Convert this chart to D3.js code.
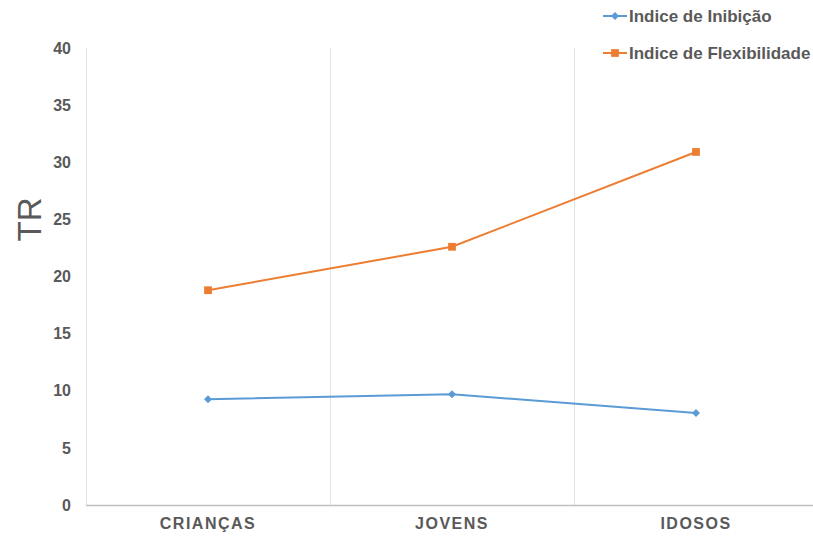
<!DOCTYPE html>
<html>
<head>
<meta charset="utf-8">
<script src="https://cdn.jsdelivr.net/npm/d3@7"></script>
<style>
  body { margin: 0; background: #fff; }
  svg text { font-family: "Liberation Sans", Arial, sans-serif; }
</style>
</head>
<body>
<div id="chart"></div>
<script>
// Chart data
const categories = ['CRIANÇAS', 'JOVENS', 'IDOSOS'];
const inibicao = [9.25, 9.7, 8.05];
const flexibilidade = [18.8, 22.6, 30.9];
const yTicks = [0, 5, 10, 15, 20, 25, 30, 35, 40];
const seriesNames = ['Indice de Inibição', 'Indice de Flexibilidade'];

const W = 813, H = 537;
const margin = { top: 48, right: -5, bottom: 32, left: 86 };
const width = W - margin.left - margin.right;
const height = H - margin.top - margin.bottom;

const svg = d3.select('#chart').append('svg')
  .attr('width', W).attr('height', H);

const g = svg.append('g')
  .attr('transform', `translate(${margin.left},${margin.top})`);

const x = d3.scaleBand().domain(categories).range([0, width]).padding(0);
const y = d3.scaleLinear().domain([0, 40]).range([height, 0]);

const textCol = '#595959';

// vertical gridlines at category boundaries (incl. left edge)
const bounds = categories.map(c => x(c));
g.selectAll('.vgrid').data(bounds).enter().append('line')
  .attr('x1', d => d + 0.5).attr('x2', d => d + 0.5)
  .attr('y1', 0).attr('y2', height)
  .attr('stroke', '#e3e3e3').attr('stroke-width', 1);

// bottom axis line
g.append('line')
  .attr('x1', 0).attr('x2', width)
  .attr('y1', height + 0.5).attr('y2', height + 0.5)
  .attr('stroke', '#bfbfbf').attr('stroke-width', 1.3);

// y tick labels
const yAxis = g.append('g')
  .call(d3.axisLeft(y).tickValues(yTicks).tickSize(0).tickPadding(15));
yAxis.select('.domain').remove();
yAxis.selectAll('text')
  .attr('fill', textCol).attr('font-size', '16px').attr('font-weight', 'bold')
  .style('font-family', '"Liberation Sans", Arial, sans-serif');

// x category labels
const xAxis = g.append('g')
  .attr('transform', `translate(0,${height})`)
  .call(d3.axisBottom(x).tickSize(0).tickPadding(13));
xAxis.select('.domain').remove();
xAxis.selectAll('text')
  .attr('fill', textCol).attr('font-size', '16px').attr('font-weight', 'bold')
  .attr('letter-spacing', '1.5px')
  .style('font-family', '"Liberation Sans", Arial, sans-serif');

// y axis title
svg.append('text')
  .attr('transform', `translate(41,${margin.top + y(25)}) rotate(-90)`)
  .attr('text-anchor', 'middle')
  .attr('fill', textCol).attr('font-size', '33px')
  .text('TR');

const colors = ['#5B9BD5', '#ED7D31'];
const series = [inibicao, flexibilidade];
const cx = c => x(c) + x.bandwidth() / 2;

const line = d3.line()
  .x((d, i) => cx(categories[i]))
  .y(d => y(d));

// diamond = square rotated 45deg, square as is
const markerSym = i => d3.symbol().type(d3.symbolSquare).size(i === 0 ? 32 : 60);
const markerRot = i => (i === 0 ? ' rotate(45)' : '');

series.forEach((vals, si) => {
  g.append('path').datum(vals)
    .attr('fill', 'none').attr('stroke', colors[si])
    .attr('stroke-width', 2).attr('d', line);

  g.selectAll('.m' + si).data(vals).enter().append('path')
    .attr('transform', (d, i) => `translate(${cx(categories[i])},${y(d)})` + markerRot(si))
    .attr('d', markerSym(si)).attr('fill', colors[si]);
});

// legend
const legend = svg.append('g');
seriesNames.forEach((name, i) => {
  const ly = 16 + i * 37;
  legend.append('line')
    .attr('x1', 603).attr('x2', 627).attr('y1', ly).attr('y2', ly)
    .attr('stroke', colors[i]).attr('stroke-width', 2);
  legend.append('path')
    .attr('transform', `translate(615,${ly})` + markerRot(i))
    .attr('d', markerSym(i)).attr('fill', colors[i]);
  legend.append('text')
    .attr('x', 629).attr('y', ly).attr('dy', '0.35em')
    .attr('fill', textCol).attr('font-size', '17px').attr('font-weight', 'bold')
    .text(name);
});
</script>
</body>
</html>
